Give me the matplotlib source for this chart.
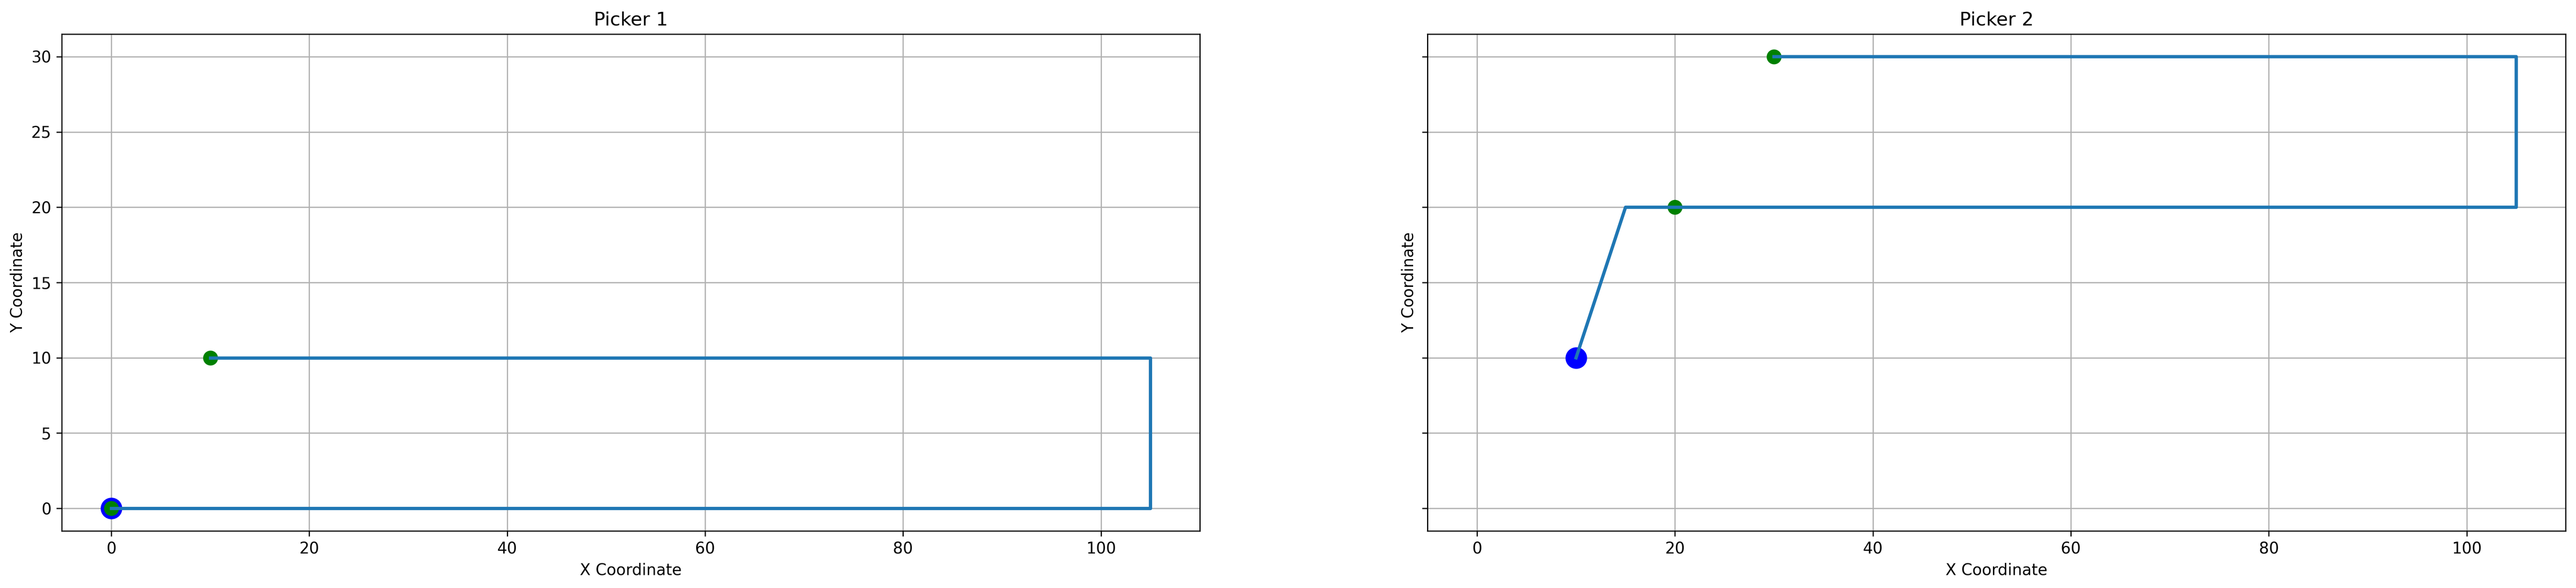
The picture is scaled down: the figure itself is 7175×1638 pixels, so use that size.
import matplotlib
matplotlib.use("Agg")
import matplotlib.pyplot as plt

plt.rcParams['font.size'] = 10.5

titles = ["Picker 1", "Picker 2"]
starts = [(0, 0), (10, 10)]
items_x = [[0, 10], [20, 30]]
items_y = [[0, 10], [20, 30]]
path_x = [[0, 105, 105, 10], [10, 15, 105, 105, 30]]
path_y = [[0, 0, 10, 10], [10, 20, 20, 30, 30]]

fig, axes = plt.subplots(1, 2, figsize=(23.917, 5.46), dpi=300, sharex=True, sharey=True)
for ax, t, s, ix, iy, px, py in zip(axes, titles, starts, items_x, items_y, path_x, path_y):
    ax.scatter([s[0]], [s[1]], color="blue", s=180, zorder=2)
    ax.scatter(ix, iy, color="green", s=80, zorder=2)
    ax.plot(px, py, color="#1f77b4", linewidth=2.2, zorder=3)
    ax.set_title(t)
    ax.set_xlabel("X Coordinate")
    ax.set_ylabel("Y Coordinate")
    ax.grid(True)
axes[0].set_xlim(-5, 110)
axes[0].set_ylim(-1.5, 31.5)
fig.subplots_adjust(left=0.024, right=0.996, bottom=0.097, top=0.942, wspace=0.2)
fig.savefig("out.png")
